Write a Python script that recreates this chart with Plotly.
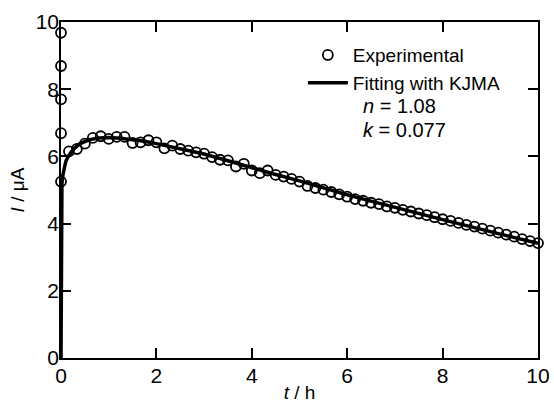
import plotly.graph_objects as go

# Experimental data (t in h, I in uA)
t_exp = [0, 0, 0, 0, 0,
         0.167, 0.333, 0.5, 0.667, 0.833, 1.0, 1.167, 1.333, 1.5, 1.667,
         1.833, 2.0, 2.167, 2.333, 2.5, 2.667, 2.833, 3.0, 3.167, 3.333,
         3.5, 3.667, 3.833, 4.0, 4.167, 4.333, 4.5, 4.667, 4.833, 5.0,
         5.167, 5.333, 5.5, 5.667, 5.833, 6.0, 6.167, 6.333, 6.5, 6.667,
         6.833, 7.0, 7.167, 7.333, 7.5, 7.667, 7.833, 8.0, 8.167, 8.333,
         8.5, 8.667, 8.833, 9.0, 9.167, 9.333, 9.5, 9.667, 9.833, 10.0]
i_exp = [9.68, 8.69, 7.70, 6.69, 5.25,
         6.15, 6.22, 6.38, 6.55, 6.60, 6.52, 6.58, 6.58, 6.40, 6.42,
         6.48, 6.42, 6.24, 6.32, 6.22, 6.17, 6.12, 6.08, 5.98, 5.90,
         5.88, 5.70, 5.78, 5.58, 5.50, 5.58, 5.45, 5.40, 5.33, 5.25,
         5.12, 5.06, 5.01, 4.94, 4.87, 4.80, 4.73, 4.68, 4.62, 4.58,
         4.51, 4.47, 4.41, 4.36, 4.30, 4.25, 4.19, 4.13, 4.08, 4.02,
         3.96, 3.91, 3.85, 3.79, 3.73, 3.67, 3.61, 3.54, 3.48, 3.42]

# KJMA fitting curve
t_fit = [0, 0.002, 0.005, 0.01, 0.02, 0.04, 0.07, 0.1, 0.15, 0.25, 0.4,
         0.6, 0.8, 1.0, 1.25, 1.5, 1.75, 2.0, 2.5, 3.0, 3.5, 4.0, 4.5,
         5.0, 5.5, 6.0, 6.5, 7.0, 7.5, 8.0, 8.5, 9.0, 9.5, 10.0]
i_fit = [0, 2.0, 4.0, 4.8, 5.2, 5.45, 5.7, 5.85, 6.0, 6.2, 6.38,
         6.5, 6.55, 6.56, 6.54, 6.5, 6.45, 6.38, 6.23, 6.07, 5.87, 5.66, 5.46,
         5.27, 5.06, 4.86, 4.67, 4.48, 4.30, 4.12, 3.94, 3.76, 3.58, 3.41]

x_ticks = [0, 2, 4, 6, 8, 10]
y_ticks = [0, 2, 4, 6, 8, 10]

FONT = "Liberation Sans, Arial, sans-serif"

fig = go.Figure()
fig.add_trace(go.Scatter(
    x=t_fit, y=i_fit, mode="lines", name="Fitting with KJMA",
    line=dict(color="black", width=3.5), legendrank=2, cliponaxis=False))
fig.add_trace(go.Scatter(
    x=t_exp, y=i_exp, mode="markers", name="Experimental",
    marker=dict(symbol="circle-open", size=10, color="black",
                line=dict(color="black", width=1.8)),
    legendrank=1, cliponaxis=False))

axis_common = dict(
    showline=True, linecolor="black", linewidth=1.5, mirror="allticks",
    ticks="inside", ticklen=10, tickwidth=1.5, tickcolor="black",
    showgrid=False, zeroline=False, range=[0, 10], automargin=False,
    tickfont=dict(family=FONT, size=21, color="black"),
)
fig.update_xaxes(**axis_common, tickvals=x_ticks, ticklabelstandoff=-2,
                 title=dict(text="<i>t</i> / h", standoff=0,
                            font=dict(family=FONT, size=19, color="black")))
fig.update_yaxes(**axis_common, tickvals=y_ticks, ticklabelstandoff=-4,
                 title=dict(text="<i>I</i> / μA", standoff=6,
                            font=dict(family=FONT, size=19, color="black")))

fig.update_layout(
    width=554, height=409,
    margin=dict(l=61, r=16, t=22, b=51),
    paper_bgcolor="white", plot_bgcolor="white",
    showlegend=True,
    legend=dict(x=0.507, y=0.958, xanchor="left", yanchor="top",
                bgcolor="rgba(0,0,0,0)", borderwidth=0,
                font=dict(family=FONT, size=19, color="black"),
                itemwidth=40, tracegroupgap=0),
    annotations=[
        dict(x=0.629, y=0.751, xref="paper", yref="paper", xanchor="left",
             yanchor="middle", showarrow=False, text="<i>n</i> = 1.08",
             font=dict(family=FONT, size=20, color="black")),
        dict(x=0.629, y=0.68, xref="paper", yref="paper", xanchor="left",
             yanchor="middle", showarrow=False, text="<i>k</i> = 0.077",
             font=dict(family=FONT, size=20, color="black")),
    ],
)

fig.write_html("out.html", config={"displayModeBar": False},
               post_script="document.body.style.margin='0px';")
